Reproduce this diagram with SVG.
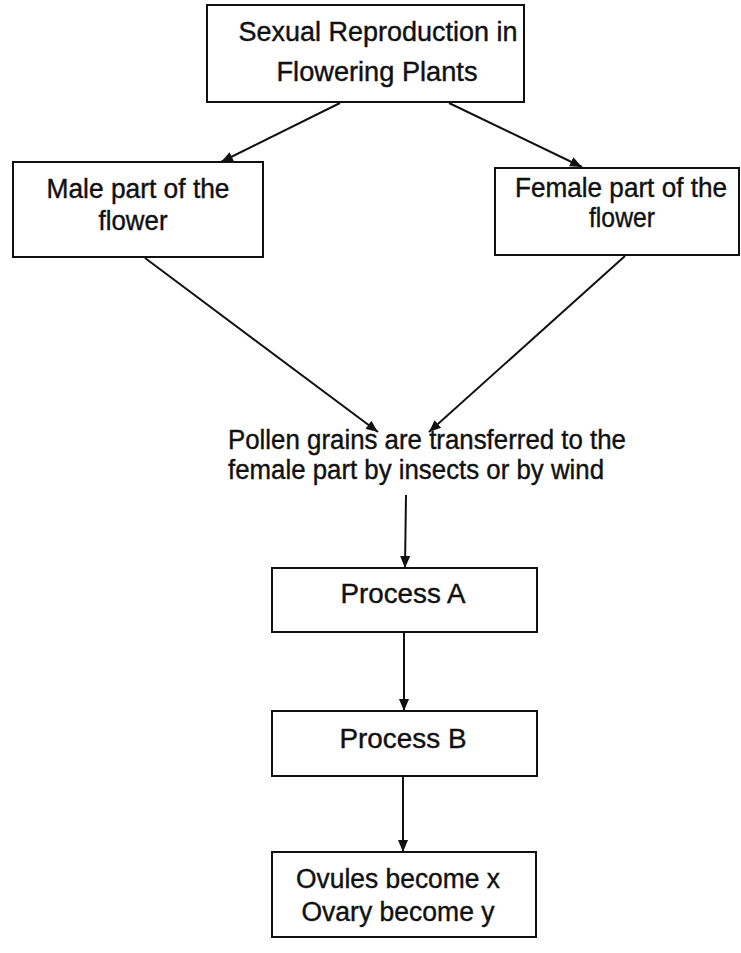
<svg xmlns="http://www.w3.org/2000/svg" width="741" height="953" viewBox="0 0 741 953">
  <style>
    .box { fill: #ffffff; stroke: #111111; stroke-width: 2; }
    .lbl { font-family: "Liberation Sans", Arial, sans-serif; font-size: 27px; fill: #111111; stroke: #111111; stroke-width: 0.4; text-anchor: middle; }
    .free { font-family: "Liberation Sans", Arial, sans-serif; font-size: 27px; fill: #111111; stroke: #111111; stroke-width: 0.4; }
    .edge { fill: none; stroke: #111111; stroke-width: 2; marker-end: url(#head); }
  </style>
  <defs>
    <marker id="head" markerUnits="userSpaceOnUse" markerWidth="13" markerHeight="10" refX="12" refY="5" orient="auto">
      <path d="M0,0 L12,5 L0,10 Z" fill="#111111"/>
    </marker>
  </defs>
  <rect width="741" height="953" fill="#ffffff"/>

  <g id="connectors">
    <line class="edge" x1="340" y1="103" x2="221" y2="162"/>
    <line class="edge" x1="449" y1="103" x2="582" y2="167"/>
    <line class="edge" x1="145" y1="258" x2="378" y2="432"/>
    <line class="edge" x1="625" y1="256" x2="429" y2="432"/>
    <line class="edge" x1="406" y1="495" x2="405" y2="568"/>
    <line class="edge" x1="404" y1="633" x2="404" y2="711"/>
    <line class="edge" x1="403" y1="777" x2="403" y2="852"/>
  </g>

  <g id="node-sexual-reproduction">
    <rect class="box" x="207" y="5" width="317" height="97"/>
    <text class="lbl" x="378" y="41" textLength="279" lengthAdjust="spacingAndGlyphs">Sexual Reproduction in</text>
    <text class="lbl" x="377" y="81" textLength="201" lengthAdjust="spacingAndGlyphs">Flowering Plants</text>
  </g>

  <g id="node-male-part">
    <rect class="box" x="13" y="162" width="250" height="95"/>
    <text class="lbl" x="138" y="198" textLength="183" lengthAdjust="spacingAndGlyphs">Male part of the</text>
    <text class="lbl" x="133" y="230" textLength="69" lengthAdjust="spacingAndGlyphs">flower</text>
  </g>

  <g id="node-female-part">
    <rect class="box" x="495" y="168" width="244" height="87"/>
    <text class="lbl" x="621" y="197" textLength="212" lengthAdjust="spacingAndGlyphs">Female part of the</text>
    <text class="lbl" x="622" y="227" textLength="66" lengthAdjust="spacingAndGlyphs">flower</text>
  </g>

  <g id="node-pollen-transfer">
    <text class="free" x="228" y="449" textLength="398" lengthAdjust="spacingAndGlyphs">Pollen grains are transferred to the</text>
    <text class="free" x="228" y="479" textLength="376" lengthAdjust="spacingAndGlyphs">female part by insects or by wind</text>
  </g>

  <g id="node-process-a">
    <rect class="box" x="272" y="568" width="265" height="64"/>
    <text class="lbl" x="403" y="603" textLength="125" lengthAdjust="spacingAndGlyphs">Process A</text>
  </g>

  <g id="node-process-b">
    <rect class="box" x="272" y="711" width="265" height="65"/>
    <text class="lbl" x="403" y="748" textLength="127" lengthAdjust="spacingAndGlyphs">Process B</text>
  </g>

  <g id="node-ovules-ovary">
    <rect class="box" x="272" y="852" width="264" height="85"/>
    <text class="lbl" x="398" y="888" textLength="204" lengthAdjust="spacingAndGlyphs">Ovules become x</text>
    <text class="lbl" x="398" y="921" textLength="193" lengthAdjust="spacingAndGlyphs">Ovary become y</text>
  </g>
</svg>
